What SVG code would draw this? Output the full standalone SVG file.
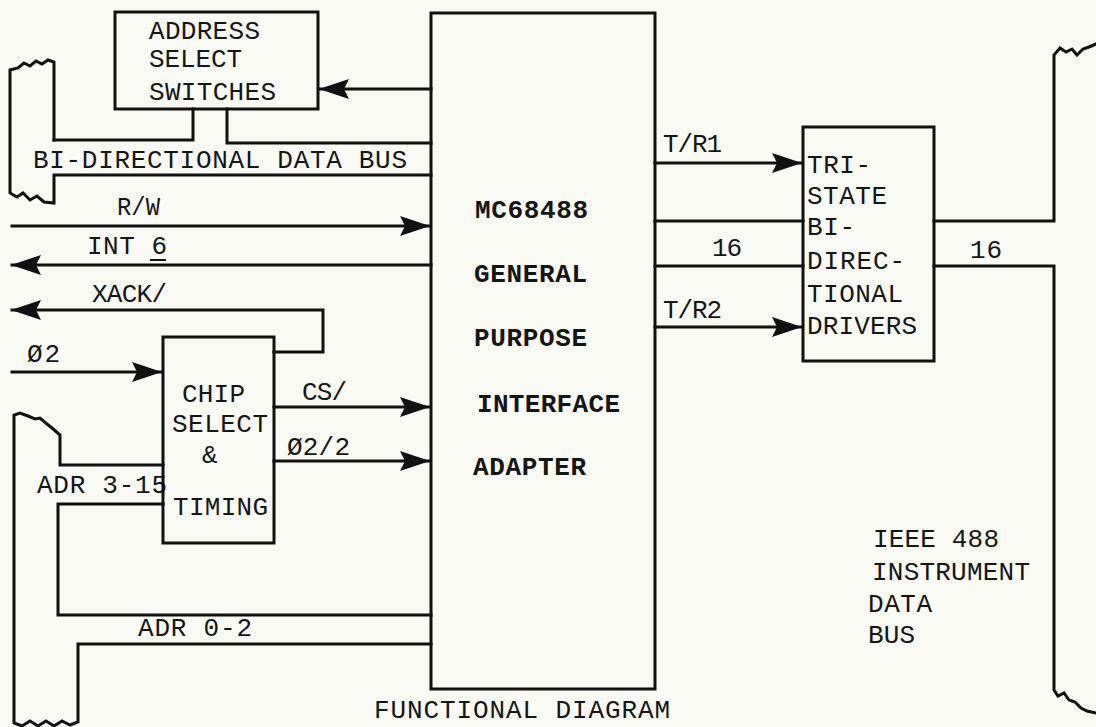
<svg xmlns="http://www.w3.org/2000/svg" width="1096" height="727" viewBox="0 0 1096 727">
<defs>
<marker id="arr" viewBox="0 0 30 20" refX="29" refY="10" markerWidth="30" markerHeight="20" orient="auto" markerUnits="userSpaceOnUse">
<path d="M0,0 L30,10 L0,20 L5,10 Z" fill="#111"/>
</marker>
</defs>
<style>
.ln{fill:none;stroke:#111;stroke-width:3;stroke-linejoin:miter;stroke-linecap:square}
.box{fill:none;stroke:#111;stroke-width:3}
.t{font-family:"Liberation Mono","DejaVu Sans Mono",monospace;font-size:26px;fill:#151515}
.b{font-weight:bold}
</style>
<rect width="1096" height="727" fill="#fafaf4"/>

<g id="connectors">
<path class="ln" d="M54,140 L54,62 L48,60 L42,64 L36,61 L30,66 L24,63 L18,68 L10,70 L10,193 L17,197 L23,193 L30,200 L37,196 L44,202 L54,203 L54,175 L431,175"/>
<path class="ln" d="M54,140 L193,140 L193,109"/>
<path class="ln" d="M227,109 L227,143 L431,143"/>
<path class="ln" d="M431,89 L320,89" marker-end="url(#arr)"/>
<path class="ln" d="M12,226 L429,226" marker-end="url(#arr)"/>
<path class="ln" d="M431,265 L12,265" marker-end="url(#arr)"/>
<path class="ln" d="M274,352 L323,352 L323,310 L12,310" marker-end="url(#arr)"/>
<path class="ln" d="M12,372 L161,372" marker-end="url(#arr)"/>
<path class="ln" d="M274,407 L429,407" marker-end="url(#arr)"/>
<path class="ln" d="M274,461 L429,461" marker-end="url(#arr)"/>
<path class="ln" d="M163,465 L60,465 L60,435 L52,428 L47,424 L40,418 L35,419 L28,416 L20,413 L14,415 L14,723 L22,726 L30,721 L38,726 L46,721 L54,726 L62,721 L70,725 L78,722 L78,644 L431,644"/>
<path class="ln" d="M163,504 L58,504 L58,615 L431,615"/>
<path class="ln" d="M655,163 L801,163" marker-end="url(#arr)"/>
<path class="ln" d="M655,221 L803,221"/>
<path class="ln" d="M655,266 L803,266"/>
<path class="ln" d="M655,327 L801,327" marker-end="url(#arr)"/>
<path class="ln" d="M934,221 L1054,221 L1054,55 L1060,48 L1066,52 L1072,49 L1077,55 L1083,49 L1089,47 L1096,44"/>
<path class="ln" d="M934,266 L1054,266 L1054,690 L1058,696 L1064,693 L1069,700 L1075,702 L1081,708 L1087,711 L1096,713"/>
</g>

<g id="connector-labels">
<text class="t" x="33" y="168" textLength="374" lengthAdjust="spacing">BI-DIRECTIONAL DATA BUS</text>
<text class="t" x="117" y="215" textLength="43" lengthAdjust="spacingAndGlyphs">R/W</text>
<text class="t" x="87" y="254" textLength="80" lengthAdjust="spacing">INT 6</text>
<path class="ln" d="M151,260 L165,260" style="stroke-width:2"/>
<text class="t" x="92" y="302" textLength="75" lengthAdjust="spacing">XACK/</text>
<text class="t" x="27" y="362" textLength="33" lengthAdjust="spacing">Ø2</text>
<text class="t" x="302" y="400" textLength="45" lengthAdjust="spacing">CS/</text>
<text class="t" x="287" y="455" textLength="63" lengthAdjust="spacing">Ø2/2</text>
<text class="t" x="37" y="493" textLength="130" lengthAdjust="spacing">ADR 3-15</text>
<text class="t" x="138" y="636" textLength="114" lengthAdjust="spacing">ADR 0-2</text>
<text class="t" x="663" y="152" textLength="59" lengthAdjust="spacing">T/R1</text>
<text class="t" x="712" y="256" textLength="30" lengthAdjust="spacing">16</text>
<text class="t" x="663" y="318" textLength="59" lengthAdjust="spacing">T/R2</text>
<text class="t" x="970" y="258" textLength="32" lengthAdjust="spacing">16</text>
</g>

<g id="address-select-switches">
<rect class="box" x="115" y="12" width="203" height="97"/>
<text class="t" x="149" y="39" textLength="111" lengthAdjust="spacing">ADDRESS</text>
<text class="t" x="149" y="67" textLength="93" lengthAdjust="spacing">SELECT</text>
<text class="t" x="149" y="100" textLength="127" lengthAdjust="spacing">SWITCHES</text>
</g>

<g id="mc68488">
<rect class="box" x="431" y="13" width="224" height="676"/>
<text class="t b" x="475" y="218" textLength="113" lengthAdjust="spacing">MC68488</text>
<text class="t b" x="474" y="282" textLength="113" lengthAdjust="spacing">GENERAL</text>
<text class="t b" x="474" y="346" textLength="113" lengthAdjust="spacing">PURPOSE</text>
<text class="t b" x="477" y="412" textLength="143" lengthAdjust="spacing">INTERFACE</text>
<text class="t b" x="473" y="475" textLength="113" lengthAdjust="spacing">ADAPTER</text>
</g>

<g id="chip-select-timing">
<rect class="box" x="163" y="337" width="111" height="206"/>
<text class="t" x="182" y="402" textLength="63" lengthAdjust="spacing">CHIP</text>
<text class="t" x="172" y="432" textLength="96" lengthAdjust="spacing">SELECT</text>
<text class="t" x="202" y="463">&amp;</text>
<text class="t" x="173" y="515" textLength="95" lengthAdjust="spacing">TIMING</text>
</g>

<g id="tristate-drivers">
<rect class="box" x="803" y="127" width="131" height="234"/>
<text class="t" x="807" y="173" textLength="64" lengthAdjust="spacing">TRI-</text>
<text class="t" x="807" y="204" textLength="80" lengthAdjust="spacing">STATE</text>
<text class="t" x="807" y="235" textLength="48" lengthAdjust="spacing">BI-</text>
<text class="t" x="807" y="269" textLength="98" lengthAdjust="spacing">DIREC-</text>
<text class="t" x="807" y="302" textLength="96" lengthAdjust="spacing">TIONAL</text>
<text class="t" x="807" y="334" textLength="110" lengthAdjust="spacing">DRIVERS</text>
</g>

<g id="ieee-488-bus-label">
<text class="t" x="873" y="547" textLength="126" lengthAdjust="spacing">IEEE 488</text>
<text class="t" x="872" y="580" textLength="158" lengthAdjust="spacing">INSTRUMENT</text>
<text class="t" x="868" y="612" textLength="64" lengthAdjust="spacing">DATA</text>
<text class="t" x="868" y="643" textLength="47" lengthAdjust="spacing">BUS</text>
</g>

<g id="caption">
<text class="t" x="374" y="718" textLength="296" lengthAdjust="spacing">FUNCTIONAL DIAGRAM</text>
</g>
</svg>
